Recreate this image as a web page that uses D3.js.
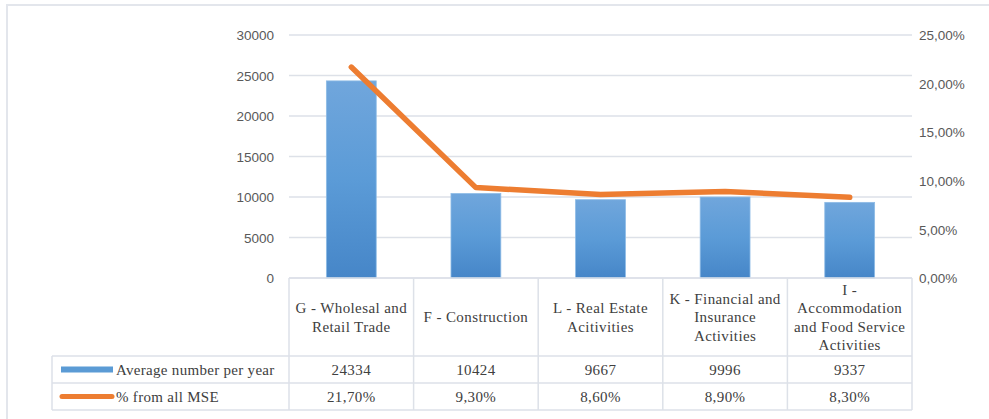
<!DOCTYPE html>
<html>
<head>
<meta charset="utf-8">
<script src="https://cdn.jsdelivr.net/npm/d3@7/dist/d3.min.js"></script>
<style>
  html, body { margin: 0; padding: 0; background: #ffffff; }
  svg { display: block; }
  .serif { font-family: "Liberation Serif", "Tinos", "Times New Roman", "Times", "Nimbus Roman", "Nimbus Roman No9 L", "FreeSerif", "Noto Serif", "DejaVu Serif", "Noto Serif CJK SC", "Source Han Serif SC", serif; }
  .sans { font-family: "Liberation Sans", Arial, sans-serif; }
</style>
</head>
<body>
<svg id="chart" width="989" height="419"></svg>
<script>
// ---- data ----
const categories = [
  ["G - Wholesal and", "Retail Trade"],
  ["F - Construction"],
  ["L - Real Estate", "Acitivities"],
  ["K - Financial and", "Insurance", "Activities"],
  ["I -", "Accommodation", "and Food Service", "Activities"]
];
const avgNumber = [24334, 10424, 9667, 9996, 9337];
const pctMSE = [21.7, 9.3, 8.6, 8.9, 8.3];
const avgLabels = ["24334", "10424", "9667", "9996", "9337"];
const pctLabels = ["21,70%", "9,30%", "8,60%", "8,90%", "8,30%"];
const leftTicks = [0, 5000, 10000, 15000, 20000, 25000, 30000];
const rightTicks = [0, 5, 10, 15, 20, 25];
const seriesNames = ["Average number per year", "% from all MSE"];

// ---- layout ----
const svg = d3.select("#chart");
const plotLeft = 289, plotRight = 912, plotTop = 35, plotBottom = 278;
const tableLeft = 52, row1 = 356, row2 = 383, row3 = 410;
const gridColor = "#dde1e8";
const axisText = "#595959";
const tableText = "#404040";
const blue = "#5b9bd5", orange = "#ed7d31";

// outer frame
svg.append("rect").attr("x", 7).attr("y", 5).attr("width", 990).attr("height", 420)
  .attr("fill", "#fff").attr("stroke", "#e3e6ec").attr("stroke-width", 2);

const defs = svg.append("defs");
const grad = defs.append("linearGradient").attr("id", "barGrad")
  .attr("x1", 0).attr("y1", 0).attr("x2", 0).attr("y2", 1);
grad.append("stop").attr("offset", "0%").attr("stop-color", "#70a6dc");
grad.append("stop").attr("offset", "50%").attr("stop-color", "#5b9bd7");
grad.append("stop").attr("offset", "100%").attr("stop-color", "#4686c8");

const x = d3.scaleBand().domain(d3.range(categories.length)).range([plotLeft, plotRight]).padding(0);
const yL = d3.scaleLinear().domain([0, 30000]).range([plotBottom, plotTop]);
const yR = d3.scaleLinear().domain([0, 25]).range([plotBottom, plotTop]);

// gridlines
svg.append("g").selectAll("line").data(leftTicks).join("line")
  .attr("x1", plotLeft).attr("x2", plotRight)
  .attr("y1", d => yL(d)).attr("y2", d => yL(d))
  .attr("stroke", gridColor).attr("stroke-width", 1.5);

// left axis labels
const leftAxis = d3.axisLeft(yL).tickValues(leftTicks).tickSize(0).tickPadding(0).tickFormat(d3.format("d"));
const gl = svg.append("g").attr("transform", `translate(${plotLeft - 15},0)`).call(leftAxis);
gl.select(".domain").remove();
gl.attr("font-family", null).attr("font-size", null);
gl.selectAll("text").attr("class", "sans").attr("fill", axisText)
  .style("font-size", "13.5px").attr("dy", "0.35em");

// right axis labels
const rightAxis = d3.axisRight(yR).tickValues(rightTicks).tickSize(0).tickPadding(0)
  .tickFormat(d => d3.format(".2f")(d).replace(".", ",") + "%");
const gr = svg.append("g").attr("transform", `translate(${plotRight + 7},0)`).call(rightAxis);
gr.select(".domain").remove();
gr.attr("font-family", null).attr("font-size", null);
gr.selectAll("text").attr("class", "sans").attr("fill", axisText)
  .style("font-size", "13.5px").attr("dy", "0.35em");

// bars
const barW = x.bandwidth() * 0.4;
svg.append("g").selectAll("rect").data(avgNumber).join("rect")
  .attr("x", (d, i) => x(i) + x.bandwidth() / 2 - barW / 2)
  .attr("y", d => yL(d))
  .attr("width", barW)
  .attr("height", d => yL(0) - yL(d))
  .attr("fill", "url(#barGrad)")
  .attr("stroke", "#8dbbe6").attr("stroke-width", 0.8);

// line
const line = d3.line().x((d, i) => x(i) + x.bandwidth() / 2).y(d => yR(d));
svg.append("path").datum(pctMSE).attr("d", line)
  .attr("fill", "none").attr("stroke", orange).attr("stroke-width", 5.5)
  .attr("stroke-linecap", "round").attr("stroke-linejoin", "round");

// ---- data table ----
const tg = svg.append("g").attr("stroke", gridColor).attr("stroke-width", 1.5);
tg.append("line").attr("x1", plotLeft).attr("x2", plotRight).attr("y1", plotBottom).attr("y2", plotBottom);
[row1, row2, row3].forEach(yv => {
  tg.append("line").attr("x1", tableLeft).attr("x2", plotRight).attr("y1", yv).attr("y2", yv);
});
tg.append("line").attr("x1", tableLeft).attr("x2", tableLeft).attr("y1", row1).attr("y2", row3);
const bounds = d3.range(categories.length + 1).map(i => i < categories.length ? x(i) : plotRight);
tg.selectAll(".vb").data(bounds).join("line").attr("class", "vb")
  .attr("x1", d => d).attr("x2", d => d).attr("y1", plotBottom).attr("y2", row3);

const fs = "15px";
const lh = 18.5;
// header labels
const hdr = svg.append("g");
categories.forEach((lines, i) => {
  const cx = x(i) + x.bandwidth() / 2;
  const cy = (plotBottom + row1) / 2;
  const t = hdr.append("text").attr("class", "serif").attr("text-anchor", "middle").attr("fill", tableText)
    .style("font-size", fs).style("letter-spacing", "0.4px");
  lines.forEach((ln, j) => {
    t.append("tspan").attr("x", cx)
      .attr("y", cy + (j - (lines.length - 1) / 2) * lh)
      .attr("dy", "0.35em").text(ln);
  });
});

// values rows
function valueRow(labels, yTop, yBot) {
  svg.append("g").selectAll("text").data(labels).join("text")
    .attr("class", "serif")
    .attr("x", (d, i) => x(i) + x.bandwidth() / 2)
    .attr("y", (yTop + yBot) / 2).attr("dy", "0.35em")
    .attr("text-anchor", "middle").attr("fill", tableText)
    .style("font-size", fs).style("letter-spacing", "0.4px")
    .text(d => d);
}
valueRow(avgLabels, row1, row2);
valueRow(pctLabels, row2, row3);

// legend keys
const ly1 = (row1 + row2) / 2, ly2 = (row2 + row3) / 2;
svg.append("rect").attr("x", 61).attr("y", ly1 - 3).attr("width", 52).attr("height", 6)
  .attr("fill", blue);
svg.append("line").attr("x1", 62).attr("x2", 112).attr("y1", ly2).attr("y2", ly2)
  .attr("stroke", orange).attr("stroke-width", 5).attr("stroke-linecap", "round");
[ [seriesNames[0], ly1], [seriesNames[1], ly2] ].forEach(([txt, yy]) => {
  svg.append("text").attr("class", "serif").attr("x", 116).attr("y", yy).attr("dy", "0.35em")
    .attr("fill", tableText).style("font-size", fs)
    .style("letter-spacing", "0.3px").text(txt);
});
</script>
</body>
</html>
